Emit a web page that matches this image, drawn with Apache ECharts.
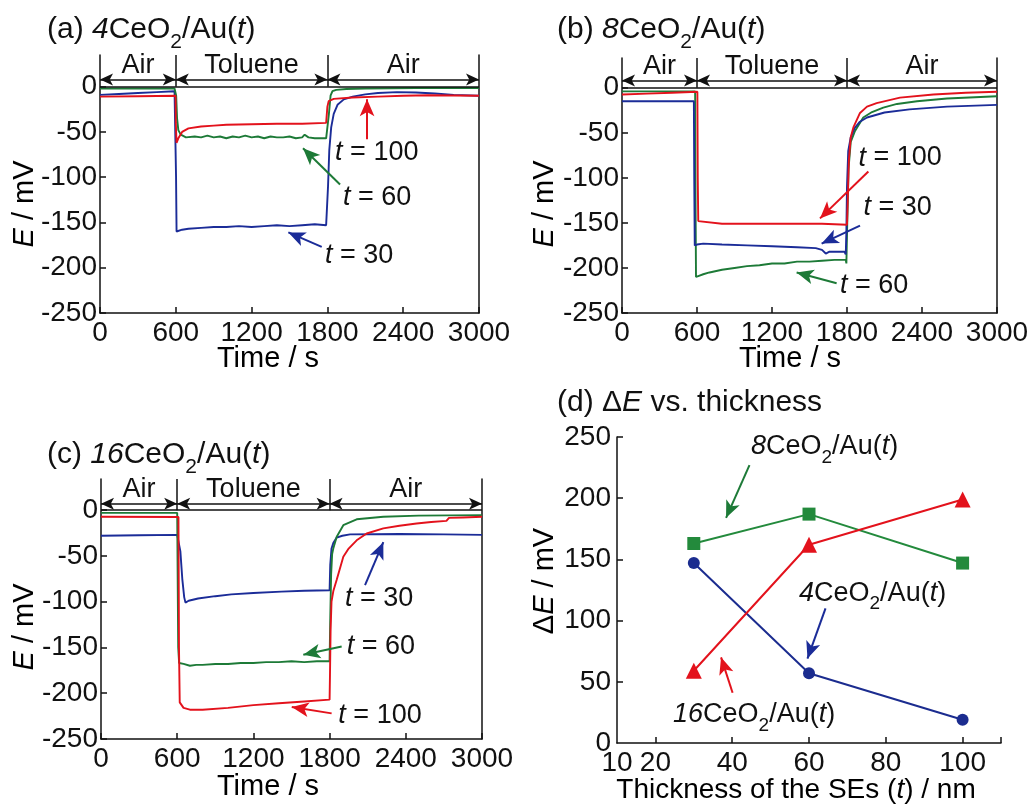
<!DOCTYPE html>
<html>
<head>
<meta charset="utf-8">
<script src="https://cdn.jsdelivr.net/npm/echarts@6/dist/echarts.min.js"></script>
<style>
body { margin: 0; background: #fff; }
#chart { width: 1030px; height: 805px; }
</style>
</head>
<body>
<div id="chart"></div>
<script>
// (a) 4CeO2/Au(t) traces, [time / s, E / mV]
const a30 = [[0,-9],[150,-8],[300,-7],[450,-6],[590,-5],[598,-5],[602,-100],[606,-160],[620,-161],[650,-158],[700,-157],[800,-156],[900,-155],[1000,-155],[1100,-154],[1200,-155],[1300,-154],[1400,-153],[1500,-154],[1600,-153],[1700,-152],[1790,-153],[1796,-152],[1805,-110],[1815,-70],[1830,-45],[1850,-30],[1880,-20],[1930,-14],[2000,-11],[2100,-8.5],[2200,-7],[2350,-6],[2500,-6.5],[2650,-7.5],[2800,-9],[3000,-10]]
const a60 = [[0,-2],[590,-2],[600,-2],[603,-10],[610,-35],[620,-48],[640,-53],[680,-56],[750,-55],[800,-56],[850,-54],[900,-56],[950,-55],[1000,-57],[1050,-55],[1100,-56],[1150,-54],[1200,-56],[1250,-55],[1300,-57],[1350,-55],[1400,-56],[1450,-56],[1500,-55],[1550,-57],[1600,-56],[1620,-53],[1650,-56],[1700,-57],[1790,-57],[1800,-57],[1812,-30],[1825,-10],[1840,-5],[1870,-3.5],[1950,-2.5],[2100,-2],[2500,-1.5],[3000,-1.5]]
const a100 = [[0,-11],[300,-10.5],[598,-10],[600,-40],[606,-62],[620,-57],[650,-50],[700,-46],[800,-44],[900,-43],[1000,-42],[1200,-41.5],[1400,-41],[1600,-41],[1790,-40],[1800,-22],[1810,-16],[1850,-13.5],[2000,-12],[2200,-11],[2400,-10],[2600,-9.5],[3000,-10]]

// (b) 8CeO2/Au(t)
const b30 = [[0,-15],[300,-15],[575,-15],[578,-100],[582,-175],[600,-174],[650,-173],[800,-174],[1000,-175],[1200,-176],[1400,-177],[1550,-178],[1600,-180],[1630,-184],[1660,-182],[1780,-182],[1790,-185],[1795,-160],[1800,-110],[1810,-70],[1830,-55],[1860,-45],[1900,-38],[1960,-33],[2100,-27.5],[2300,-24],[2600,-21],[3000,-19]]
const b60 = [[0,-4],[300,-4],[585,-4],[588,-120],[592,-210],[610,-209],[650,-207],[700,-205],[800,-202],[900,-200],[1000,-198],[1100,-197],[1200,-195],[1300,-195],[1400,-193],[1500,-193],[1600,-192],[1700,-191],[1790,-191],[1795,-195],[1802,-150],[1812,-90],[1830,-60],[1864,-48],[1930,-33],[2000,-27],[2090,-22],[2200,-18],[2360,-15],[2600,-12],[3000,-9.5]]
const b100 = [[0,-7.5],[200,-6.5],[400,-5.5],[603,-4.5],[606,-100],[610,-148],[620,-150],[800,-151],[1000,-151],[1200,-151],[1400,-151],[1600,-151],[1800,-152],[1805,-130],[1815,-80],[1830,-55],[1851,-44],[1904,-28],[1960,-21],[2037,-17],[2224,-11],[2491,-7.5],[2750,-5.5],[3000,-4.5]]

// (c) 16CeO2/Au(t)
const c30 = [[0,-28],[300,-27.5],[600,-27],[612,-28],[625,-45],[640,-75],[655,-95],[665,-101],[690,-99],[764,-96.5],[900,-94],[1026,-92],[1200,-90.5],[1420,-89],[1600,-88],[1800,-87.5],[1805,-60],[1815,-42],[1829,-36],[1856,-30],[1900,-28],[1961,-26.5],[2354,-26],[2700,-26.5],[3000,-27]]
const c60 = [[0,-3],[600,-3],[603,-60],[608,-150],[615,-167],[650,-168],[700,-170],[750,-169],[800,-169],[900,-168],[1000,-168],[1100,-167],[1200,-167],[1300,-166],[1400,-166],[1500,-165],[1600,-166],[1700,-165],[1800,-165],[1805,-120],[1812,-70],[1820,-48],[1829,-42],[1856,-29],[1908,-16.5],[2013,-10],[2223,-7.3],[2500,-6],[3000,-5.5]]
const c100 = [[0,-7.3],[610,-7.5],[614,-150],[620,-210],[650,-216],[700,-218],[800,-218],[1000,-216],[1200,-213],[1400,-211],[1600,-209],[1800,-207],[1803,-180],[1808,-130],[1815,-100],[1830,-88],[1856,-76],[1908,-51],[1950,-42],[2013,-33],[2092,-25.5],[2223,-20],[2350,-17],[2485,-14.6],[2600,-13],[2720,-11.7],[2740,-8.5],[2850,-8],[3000,-7.3]]

// (d) delta E vs thickness
const thickness = [30, 60, 100]
const dE4 = [147, 57, 19]
const dE8 = [163, 187, 147]
const dE16 = [59, 162, 199]

const timeTicks = [0, 600, 1200, 1800, 2400, 3000]
const eTicks = [-250, -200, -150, -100, -50, 0]
const thickLabels = [10, 20, 40, 60, 80, 100]
const thickTicks = [20, 40, 60, 80, 100, 110]
const dETicks = [0, 50, 100, 150, 200, 250]

const FONT = '"Liberation Sans", Arial, sans-serif'
const RED = '#e3121c', GREEN = '#1d7a37', BLUE = '#1b2c98', INK = '#111'

function makeRich(size, subSize, lh) {
  return {
    n: {fontSize: size, fontFamily: FONT, fontWeight: 'normal', color: INK, lineHeight: lh, verticalAlign: 'middle'},
    i: {fontSize: size, fontFamily: FONT, fontWeight: 'normal', color: INK, lineHeight: lh, verticalAlign: 'middle', fontStyle: 'italic'},
    sub: {fontSize: subSize, fontFamily: FONT, fontWeight: 'normal', color: INK, lineHeight: subSize, verticalAlign: 'bottom'}
  }
}
const rich = makeRich(30, 21, 46)
const smallRich = makeRich(27, 19, 40)
const nameRich = makeRich(29, 20, 40)
const xNameRich = makeRich(28, 20, 40)

const grids = [
  {left: 100, top: 55, width: 379, height: 258},
  {left: 622, top: 58, width: 375, height: 255},
  {left: 101, top: 479, width: 381, height: 260},
  {left: 617, top: 437, width: 384, height: 306}
].map(g => Object.assign({outerBoundsMode: 'none'}, g))
const yTop = [35, 33, 34]

const axisBase = {
  axisLine: {show: true, onZero: false, lineStyle: {color: INK, width: 1.5}},
  splitLine: {show: false},
  axisLabel: {fontSize: 28, fontFamily: FONT, color: INK, formatter: v => String(v)},
  axisTick: {inside: true, length: 6, lineStyle: {color: INK, width: 1.5}}
}

const xAxis = [], yAxis = []
for (let k = 0; k < 3; k++) {
  xAxis.push(echarts.util.merge({
    type: 'value', gridIndex: k, min: 0, max: 3000,
    axisTick: {customValues: timeTicks},
    axisLabel: {customValues: timeTicks, margin: 6}
  }, axisBase))
  yAxis.push(echarts.util.merge({
    type: 'value', gridIndex: k, min: -250, max: yTop[k],
    axisTick: {customValues: eTicks},
    axisLabel: {customValues: eTicks, margin: 3}
  }, axisBase))
}
xAxis.push(echarts.util.merge({
  type: 'value', gridIndex: 3, min: 10, max: 110,
  axisTick: {customValues: thickTicks},
  axisLabel: {customValues: thickLabels, margin: 6}
}, axisBase))
yAxis.push(echarts.util.merge({
  type: 'value', gridIndex: 3, min: 0, max: 250,
  axisTick: {customValues: dETicks.slice(1)},
  axisLabel: {customValues: dETicks, margin: 6}
}, axisBase))
// right border of the three time panels
for (let k = 0; k < 3; k++) {
  yAxis.push({
    type: 'value', gridIndex: k, position: 'right', min: -250, max: yTop[k],
    axisLine: {show: true, onZero: false, lineStyle: {color: INK, width: 1.5}},
    axisTick: {show: false}, axisLabel: {show: false}, splitLine: {show: false}
  })
}

// annotation helpers
function arrow(from, to, color, both) {
  const size = both ? [9, 13] : [11, 17]
  return [
    {coord: from, symbol: both ? 'arrow' : 'none', symbolSize: size, lineStyle: {color: color, width: both ? 1.5 : 2, type: 'solid'}},
    {coord: to, symbol: 'arrow', symbolSize: size}
  ]
}
function rule(from, to) {
  return [{coord: from, symbol: 'none', lineStyle: {color: INK, width: 1.5, type: 'solid'}}, {coord: to, symbol: 'none'}]
}
function text(coord, str, pos) {
  return {
    coord: coord, symbol: 'circle', symbolSize: 0,
    label: {show: true, position: pos || 'inside', distance: 0, formatter: str, rich: smallRich, fontSize: 27, fontFamily: FONT, color: INK}
  }
}
function header(top, arrowY, textY) {
  return {
    lines: [
      rule([0, 0], [3000, 0]),
      rule([600, 0], [600, top]),
      rule([1800, 0], [1800, top]),
      arrow([0, arrowY], [600, arrowY], INK, true),
      arrow([600, arrowY], [1800, arrowY], INK, true),
      arrow([1800, arrowY], [3000, arrowY], INK, true)
    ],
    texts: [
      text([300, textY], '{n|Air}'),
      text([1200, textY], '{n|Toluene}'),
      text([2400, textY], '{n|Air}')
    ]
  }
}

const ha = header(35, 8, 23)
const hb = header(33, 8, 24)
const hc = header(34, 7, 22)

const annA = {
  lines: ha.lines.concat([
    arrow([2114, -58], [2114, -14], RED),
    arrow([1900, -108], [1607, -68], GREEN),
    arrow([1755, -177], [1491, -161], BLUE)
  ]),
  texts: ha.texts.concat([
    text([1861, -73], '{i|t}{n| = 100}', 'right'),
    text([1924, -122], '{i|t}{n| = 60}', 'right'),
    text([1781, -187], '{i|t}{n| = 30}', 'right')
  ])
}
const annB = {
  lines: hb.lines.concat([
    arrow([1971, -93], [1584, -145], RED),
    arrow([1904, -153], [1597, -173], BLUE),
    arrow([1717, -217], [1397, -205], GREEN)
  ]),
  texts: hb.texts.concat([
    text([1891, -78], '{i|t}{n| = 100}', 'right'),
    text([1931, -133], '{i|t}{n| = 30}', 'right'),
    text([1744, -219], '{i|t}{n| = 60}', 'right')
  ])
}
const annC = {
  lines: hc.lines.concat([
    arrow([2079, -82], [2223, -35], BLUE),
    arrow([1895, -149], [1593, -158], GREEN),
    arrow([1816, -222], [1502, -215], RED)
  ]),
  texts: hc.texts.concat([
    text([1921, -97], '{i|t}{n| = 30}', 'right'),
    text([1935, -149], '{i|t}{n| = 60}', 'right'),
    text([1869, -224], '{i|t}{n| = 100}', 'right')
  ])
}
const annD = {
  lines: [
    arrow([44.5, 227], [38.4, 184], GREEN),
    arrow([64.3, 110], [59.6, 69], BLUE),
    arrow([40.1, 41], [37.1, 70], RED)
  ],
  texts: [
    text([44.9, 242], '{i|8}{n|CeO}{sub|2}{n|/Au(}{i|t}{n|)}', 'right'),
    text([57.4, 122], '{i|4}{n|CeO}{sub|2}{n|/Au(}{i|t}{n|)}', 'right'),
    text([24.6, 23], '{i|16}{n|CeO}{sub|2}{n|/Au(}{i|t}{n|)}', 'right')
  ]
}

function trace(k, data, color, ann) {
  const s = {
    type: 'line', xAxisIndex: k, yAxisIndex: k, data: data,
    showSymbol: false, symbol: 'none', silent: true, animation: false,
    lineStyle: {color: color, width: 1.9}, itemStyle: {color: color}
  }
  if (ann) {
    s.markLine = {silent: true, animation: false, label: {show: false}, lineStyle: {type: 'solid'}, data: ann.lines}
    s.markPoint = {silent: true, animation: false, data: ann.texts}
  }
  return s
}
function pts(vals) {
  return thickness.map((t, i) => [t, vals[i]])
}
function dSeries(vals, color, symbol, size, ann) {
  const s = {
    type: 'line', xAxisIndex: 3, yAxisIndex: 3, data: pts(vals),
    symbol: symbol, symbolSize: size, showSymbol: true, silent: true, animation: false,
    lineStyle: {color: color, width: 2}, itemStyle: {color: color}
  }
  if (ann) {
    s.markLine = {silent: true, animation: false, label: {show: false}, lineStyle: {type: 'solid'}, data: ann.lines}
    s.markPoint = {silent: true, animation: false, data: ann.texts}
  }
  return s
}
function titleItem(left, top, str) {
  return {left: left, top: top, padding: 0, text: str, textStyle: {fontWeight: 'normal', fontSize: 30, fontFamily: FONT, rich: rich}}
}
function axisName(x, y, str, rotate, r) {
  return {type: 'text', x: x, y: y, rotation: rotate ? Math.PI / 2 : 0,
    style: {text: str, rich: r || nameRich, align: 'center', verticalAlign: 'middle'}}
}

const option = {
  backgroundColor: '#fff',
  animation: false,
  title: [
    titleItem(47, 7, '{n|(a) }{i|4}{n|CeO}{sub|2}{n|/Au(}{i|t}{n|)}'),
    titleItem(557, 7, '{n|(b) }{i|8}{n|CeO}{sub|2}{n|/Au(}{i|t}{n|)}'),
    titleItem(47, 432, '{n|(c) }{i|16}{n|CeO}{sub|2}{n|/Au(}{i|t}{n|)}'),
    titleItem(557, 380, '{n|(d) Δ}{i|E}{n| vs. thickness}')
  ],
  grid: grids,
  xAxis: xAxis,
  yAxis: yAxis,
  series: [
    trace(0, a30, BLUE, annA), trace(0, a60, GREEN), trace(0, a100, RED),
    trace(1, b60, GREEN, annB), trace(1, b30, BLUE), trace(1, b100, RED),
    trace(2, c30, BLUE, annC), trace(2, c60, GREEN), trace(2, c100, RED),
    dSeries(dE8, '#238a3c', 'rect', 13, annD),
    dSeries(dE4, '#1b2c8f', 'circle', 12),
    dSeries(dE16, '#e3121c', 'triangle', 16)
  ],
  graphic: [
    axisName(25, 204, '{i|E}{n| / mV}', true),
    axisName(545, 204, '{i|E}{n| / mV}', true),
    axisName(25, 627, '{i|E}{n| / mV}', true),
    axisName(545, 581, '{n|Δ}{i|E}{n| / mV}', true),
    axisName(268, 359, '{n|Time / s}'),
    axisName(790, 359, '{n|Time / s}'),
    axisName(268, 787, '{n|Time / s}'),
    axisName(796, 790, '{n|Thickness of the SEs (}{i|t}{n|) / nm}', false, xNameRich)
  ]
}

const chart = echarts.init(document.getElementById('chart'), null, {renderer: 'canvas'})
chart.setOption(option)
</script>
</body>
</html>
